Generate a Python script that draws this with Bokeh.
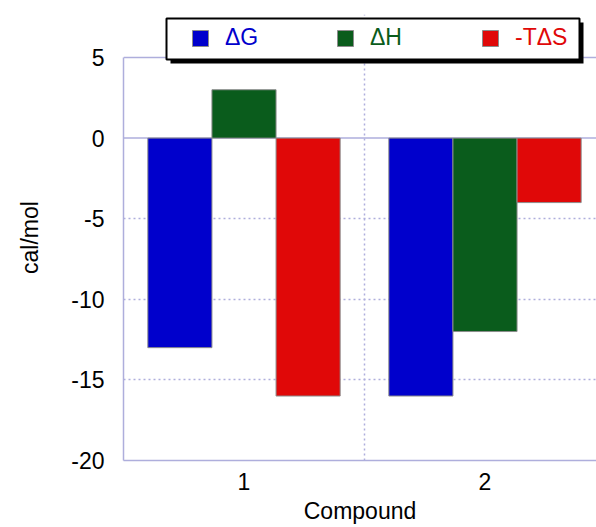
from bokeh.plotting import figure
from bokeh.models import Range1d, FixedTicker, Span, BoxAnnotation, Legend, LegendItem
from bokeh.embed import file_html
from bokeh.resources import INLINE

# ---- data ----
compounds = ["1", "2"]
series_names = ["\u0394G", "\u0394H", "-T\u0394S"]
dG = [-13, -16]
dH = [3, -12]
mTdS = [-16, -4]
y_ticks = [-20, -15, -10, -5, 0, 5]
y_min, y_max = -20, 5

colors = ["#0000CC", "#0A5C1C", "#E00808"]
lav = "#AEAEDC"
font = "Liberation Sans"
fs = "23px"

# frame: left 123, top 14 (extra headroom for legend), bottom 460; 5 maps to y=57
px_per_unit = 403 / (y_max - y_min)
p = figure(width=596, height=527,
           x_range=Range1d(0.5, 0.5 + 473 / 241),
           y_range=Range1d(y_min, y_max + 43 / px_per_unit),
           output_backend="svg", toolbar_location=None,
           min_border_left=123, min_border_right=0, min_border_top=14, min_border_bottom=67)
p.outline_line_color = None
p.background_fill_color = "white"

bw = 0.266
offsets = [-bw, 0, bw]
renderers = []
for vals, off, col in zip([dG, dH, mTdS], offsets, colors):
    xs = [i + 1 + off for i in range(len(compounds))]
    r = p.vbar(x=xs, top=vals, bottom=0, width=bw, fill_color=col, line_color="#8C8C8C", line_width=1)
    renderers.append(r)

# axes
p.xaxis.ticker = FixedTicker(ticks=[i + 1 for i in range(len(compounds))])
p.xaxis.major_label_overrides = {i + 1: c for i, c in enumerate(compounds)}
p.yaxis.ticker = FixedTicker(ticks=y_ticks)
p.yaxis.major_label_overrides = {t: str(t) for t in y_ticks}
p.yaxis.bounds = (y_min, y_max)
for ax in (p.xaxis[0], p.yaxis[0]):
    ax.axis_line_color = lav
    ax.axis_line_width = 1.5
    ax.major_tick_line_color = None
    ax.minor_tick_line_color = None
    ax.major_label_text_font = font
    ax.major_label_text_font_size = fs
    ax.major_label_text_color = "black"
    ax.axis_label_text_font = font
    ax.axis_label_text_font_size = fs
    ax.axis_label_text_font_style = "normal"
    ax.axis_label_text_color = "black"
p.xaxis.axis_label = "Compound"
p.yaxis.axis_label = "cal/mol"
p.yaxis.major_label_standoff = 13
p.yaxis.axis_label_standoff = 25
p.xaxis.major_label_standoff = 6
p.xaxis.axis_label_standoff = 5

# grids
p.ygrid.ticker = FixedTicker(ticks=[-15, -10, -5])
p.ygrid.grid_line_color = lav
p.ygrid.grid_line_dash = "2 3"
p.ygrid.grid_line_width = 1.5
p.xgrid.ticker = FixedTicker(ticks=[1.5])
p.xgrid.grid_line_color = lav
p.xgrid.grid_line_dash = "2 3"
p.xgrid.grid_line_width = 1.5
p.add_layout(Span(location=0, dimension="width", line_color=lav, line_width=1.5, level="underlay"))
p.add_layout(Span(location=y_max, dimension="width", line_color=lav, line_width=1.5))

# legend box with shadow
shadow = BoxAnnotation(left=47, right=460, top=438, bottom=397,
                       left_units="screen", right_units="screen", top_units="screen", bottom_units="screen",
                       fill_color="black", fill_alpha=1, line_color=None)
box = BoxAnnotation(left=43, right=456, top=442, bottom=401,
                    left_units="screen", right_units="screen", top_units="screen", bottom_units="screen",
                    fill_color="white", fill_alpha=1, line_color="black", line_width=2, line_alpha=1)
p.add_layout(shadow)
p.add_layout(box)

leg_x = [67, 212, 357]
for name, r, col, lx in zip(series_names, renderers, colors, leg_x):
    lg = Legend(items=[LegendItem(label=name, renderers=[r])], location=(lx, 409),
                orientation="horizontal", border_line_alpha=0, background_fill_alpha=0,
                padding=0, margin=0, glyph_width=20, glyph_height=20, label_standoff=15,
                label_height=20, label_text_font=font, label_text_font_size=fs,
                label_text_color=col)
    p.add_layout(lg)

open("out.html", "w").write(file_html(p, INLINE))
